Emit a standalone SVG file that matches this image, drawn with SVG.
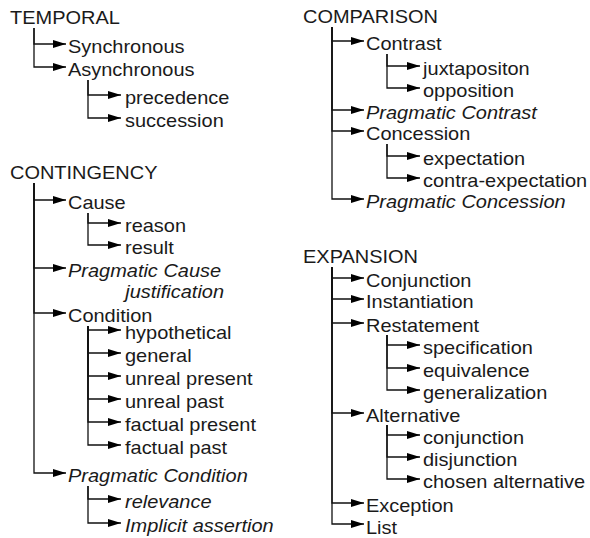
<svg xmlns="http://www.w3.org/2000/svg" width="590" height="538" viewBox="0 0 590 538">
<style>
text{font-family:"Liberation Sans",Arial,sans-serif;font-size:18px;fill:#1a1a1a;transform-box:fill-box;transform-origin:0 50%;transform:scaleX(1.11)}
.i{font-style:italic}
.c path{fill:none;stroke:#111;stroke-width:1.3;marker-end:url(#ah)}
</style>
<defs>
<marker id="ah" markerUnits="userSpaceOnUse" markerWidth="13" markerHeight="8" refX="13" refY="4" orient="auto" viewBox="0 0 13 8">
<path d="M0,0 L13,4 L0,8 z" fill="#000"/>
</marker>
</defs>
<rect width="590" height="538" fill="#fff"/>
<g class="c" id="connectors">
<path d="M34,28 V44 H66"/>
<path d="M34,28 V67 H66"/>
<path d="M88,80 V95 H121"/>
<path d="M88,80 V118 H121"/>
<path d="M34,183 V200 H66"/>
<path d="M34,183 V268 H66"/>
<path d="M34,183 V313 H66"/>
<path d="M34,183 V473 H66"/>
<path d="M88,213 V223 H121"/>
<path d="M88,213 V245 H121"/>
<path d="M88,326 V330 H121"/>
<path d="M88,326 V353 H121"/>
<path d="M88,326 V376 H121"/>
<path d="M88,326 V399 H121"/>
<path d="M88,326 V422 H121"/>
<path d="M88,326 V445 H121"/>
<path d="M88,486 V499 H121"/>
<path d="M88,486 V523 H121"/>
<path d="M332,27 V41 H364"/>
<path d="M332,27 V110 H364"/>
<path d="M332,27 V131 H364"/>
<path d="M332,27 V199 H364"/>
<path d="M387,54 V66 H420"/>
<path d="M387,54 V88 H420"/>
<path d="M387,144 V156 H420"/>
<path d="M387,144 V178 H420"/>
<path d="M332,267 V278 H364"/>
<path d="M332,267 V299 H364"/>
<path d="M332,267 V323 H364"/>
<path d="M332,267 V413 H364"/>
<path d="M332,267 V503 H364"/>
<path d="M332,267 V524 H364"/>
<path d="M387,335 V345 H420"/>
<path d="M387,335 V368 H420"/>
<path d="M387,335 V390 H420"/>
<path d="M387,425 V435 H420"/>
<path d="M387,425 V457 H420"/>
<path d="M387,425 V479 H420"/>
</g>
<g id="temporal"><text x="10" y="24">TEMPORAL</text></g>
<g id="synchronous"><text x="68" y="53">Synchronous</text></g>
<g id="asynchronous"><text x="68" y="76">Asynchronous</text></g>
<g id="precedence"><text x="125" y="104">precedence</text></g>
<g id="succession"><text x="125" y="127">succession</text></g>
<g id="contingency"><text x="10" y="179">CONTINGENCY</text></g>
<g id="cause"><text x="68" y="209">Cause</text></g>
<g id="reason"><text x="125" y="232">reason</text></g>
<g id="result"><text x="125" y="254">result</text></g>
<g id="pragmatic-cause"><text class="i" x="68" y="277">Pragmatic Cause</text><text class="i" x="125" y="298">justification</text></g>
<g id="condition"><text x="68" y="322">Condition</text></g>
<g id="hypothetical"><text x="125" y="339">hypothetical</text></g>
<g id="general"><text x="125" y="362">general</text></g>
<g id="unreal-present"><text x="125" y="385">unreal present</text></g>
<g id="unreal-past"><text x="125" y="408">unreal past</text></g>
<g id="factual-present"><text x="125" y="431">factual present</text></g>
<g id="factual-past"><text x="125" y="454">factual past</text></g>
<g id="pragmatic-condition"><text class="i" x="68" y="482">Pragmatic Condition</text></g>
<g id="relevance"><text class="i" x="125" y="508">relevance</text></g>
<g id="implicit-assertion"><text class="i" x="125" y="532">Implicit assertion</text></g>
<g id="comparison"><text x="303" y="23">COMPARISON</text></g>
<g id="contrast"><text x="366" y="50">Contrast</text></g>
<g id="juxtapositon"><text x="423" y="75">juxtapositon</text></g>
<g id="opposition"><text x="423" y="97">opposition</text></g>
<g id="pragmatic-contrast"><text class="i" x="366" y="119">Pragmatic Contrast</text></g>
<g id="concession"><text x="366" y="140">Concession</text></g>
<g id="expectation"><text x="423" y="165">expectation</text></g>
<g id="contra-expectation"><text x="423" y="187">contra-expectation</text></g>
<g id="pragmatic-concession"><text class="i" x="366" y="208">Pragmatic Concession</text></g>
<g id="expansion"><text x="303" y="263">EXPANSION</text></g>
<g id="conjunction-1"><text x="366" y="287">Conjunction</text></g>
<g id="instantiation"><text x="366" y="308">Instantiation</text></g>
<g id="restatement"><text x="366" y="332">Restatement</text></g>
<g id="specification"><text x="423" y="354">specification</text></g>
<g id="equivalence"><text x="423" y="377">equivalence</text></g>
<g id="generalization"><text x="423" y="399">generalization</text></g>
<g id="alternative"><text x="366" y="422">Alternative</text></g>
<g id="conjunction-2"><text x="423" y="444">conjunction</text></g>
<g id="disjunction"><text x="423" y="466">disjunction</text></g>
<g id="chosen-alternative"><text x="423" y="488">chosen alternative</text></g>
<g id="exception"><text x="366" y="512">Exception</text></g>
<g id="list"><text x="366" y="534">List</text></g>
</svg>
